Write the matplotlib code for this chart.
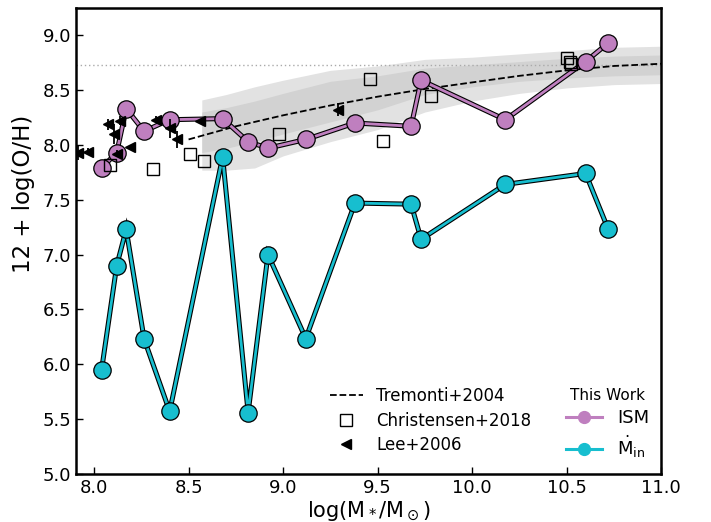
import matplotlib
matplotlib.use("Agg")
import matplotlib.pyplot as plt
from matplotlib.lines import Line2D

# ---------------- data ----------------
# This work (ISM and inflow metallicity)
mstar = [8.04, 8.12, 8.17, 8.265, 8.40, 8.68, 8.815, 8.92, 9.12, 9.38, 9.677, 9.73, 10.175, 10.60, 10.72]
ism_oh = [7.79, 7.93, 8.33, 8.125, 8.23, 8.24, 8.03, 7.97, 8.05, 8.20, 8.17, 8.59, 8.23, 8.76, 8.93]
min_oh = [5.95, 6.90, 7.23, 6.23, 5.57, 7.89, 5.56, 7.00, 6.235, 7.47, 7.46, 7.14, 7.64, 7.74, 7.23]

# Christensen+2018
chr_x = [8.085, 8.31, 8.51, 8.58, 8.98, 9.46, 9.53, 9.78, 10.50, 10.52, 10.525]
chr_y = [7.82, 7.78, 7.92, 7.85, 8.10, 8.60, 8.04, 8.45, 8.79, 8.76, 8.74]

# Lee+2006
lee_x = [7.917, 7.97, 8.076, 8.106, 8.12, 8.138, 8.19, 8.33, 8.40, 8.44, 8.56, 9.29]
lee_y = [7.93, 7.94, 8.19, 8.10, 7.92, 8.22, 7.98, 8.23, 8.15, 8.05, 8.22, 8.32]
lee_err = [0.07, 0.03, 0.05, 0.09, 0.03, 0.04, 0.02, 0.03, 0.085, 0.08, 0.02, 0.06]

# Tremonti+2004 relation
tre_x = [8.5, 8.75, 9.0, 9.25, 9.5, 9.75, 10.0, 10.25, 10.5, 10.75, 11.0]
tre_y = [8.05, 8.17, 8.27, 8.36, 8.44, 8.51, 8.57, 8.63, 8.68, 8.72, 8.74]

# scatter bands
band_x = [8.57, 8.70, 8.85, 9.0, 9.25, 9.5, 9.75, 10.0, 10.25, 10.5, 10.75, 11.0]
outer_hi = [8.41, 8.46, 8.53, 8.59, 8.68, 8.72, 8.78, 8.80, 8.83, 8.86, 8.89, 8.90]
outer_lo = [7.77, 7.77, 7.79, 7.90, 8.03, 8.14, 8.30, 8.40, 8.47, 8.52, 8.55, 8.56]
inner_hi = [8.30, 8.34, 8.40, 8.47, 8.58, 8.63, 8.70, 8.73, 8.76, 8.79, 8.81, 8.82]
inner_lo = [7.93, 7.97, 8.03, 8.10, 8.21, 8.32, 8.46, 8.53, 8.58, 8.61, 8.63, 8.64]

solar = 8.73

purple = "#bf7fbf"
cyan = "#17becf"

fig = plt.figure(figsize=(7.11, 5.22), dpi=100)
ax = fig.add_axes([0.107, 0.092, 0.823, 0.893])

ax.fill_between(band_x, outer_lo, outer_hi, color="#e2e2e2", lw=0, zorder=1)
ax.fill_between(band_x, inner_lo, inner_hi, color="#d2d2d2", lw=0, zorder=1.1)
ax.axhline(solar, color="#aaaaaa", ls=(0, (1, 2)), lw=1, zorder=1.2)
tre, = ax.plot(tre_x, tre_y, "k--", lw=1.3, zorder=2, label="Tremonti+2004")

for yv, col in [(ism_oh, purple), (min_oh, cyan)]:
    ax.plot(mstar, yv, color="k", lw=3.6, zorder=3, solid_capstyle="round",
            solid_joinstyle="miter")
    ax.plot(mstar, yv, color=col, lw=2.0, zorder=3.1, marker="o", ms=12.5,
            mec="k", mew=0.9, mfc=col)

chr_h, = ax.plot(chr_x, chr_y, ls="none", marker="s", ms=8, mfc="none",
                 mec="k", mew=1.0, zorder=4, label="Christensen+2018")
ax.errorbar(lee_x, lee_y, yerr=lee_err, fmt="<", ms=6.5, color="k",
            ecolor="k", elinewidth=1.3, capsize=0, zorder=5, label="Lee+2006")

ax.set_xlim(7.905, 11.0)
ax.set_ylim(5.0, 9.25)
ax.set_xticks([8.0, 8.5, 9.0, 9.5, 10.0, 10.5, 11.0])
ax.set_yticks([5.0, 5.5, 6.0, 6.5, 7.0, 7.5, 8.0, 8.5, 9.0])
ax.tick_params(direction="in", labelsize=13, length=5, width=1)
for s in ax.spines.values():
    s.set_linewidth(1.8)
ax.set_xlabel(r"log(M$_*$/M$_\odot$)", fontsize=15, labelpad=2)
ax.set_ylabel("12 + log(O/H)", fontsize=16.5)
ax.yaxis.set_label_coords(-0.07, 0.6)

h_ism = Line2D([], [], color=purple, lw=2.2, marker="o", ms=8.5, mfc=purple, mec=purple)
h_min = Line2D([], [], color=cyan, lw=2.2, marker="o", ms=8.5, mfc=cyan, mec=cyan)

leg1 = ax.legend([tre, chr_h, Line2D([], [], ls="none", marker="<", ms=7, color="k")],
                 ["Tremonti+2004", "Christensen+2018", "Lee+2006"],
                 loc="lower left", bbox_to_anchor=(0.408, 0.01), frameon=False,
                 fontsize=12, handlelength=2.0, labelspacing=0.4)
ax.add_artist(leg1)
leg2 = ax.legend([h_ism, h_min], ["ISM", r"$\dot{\rm M}_{\rm in}$"],
                 loc="lower left", bbox_to_anchor=(0.81, -0.005), frameon=False,
                 fontsize=13, title="This Work", title_fontsize=11,
                 handlelength=2.0, labelspacing=0.35)

fig.savefig("out.png", dpi=100)
